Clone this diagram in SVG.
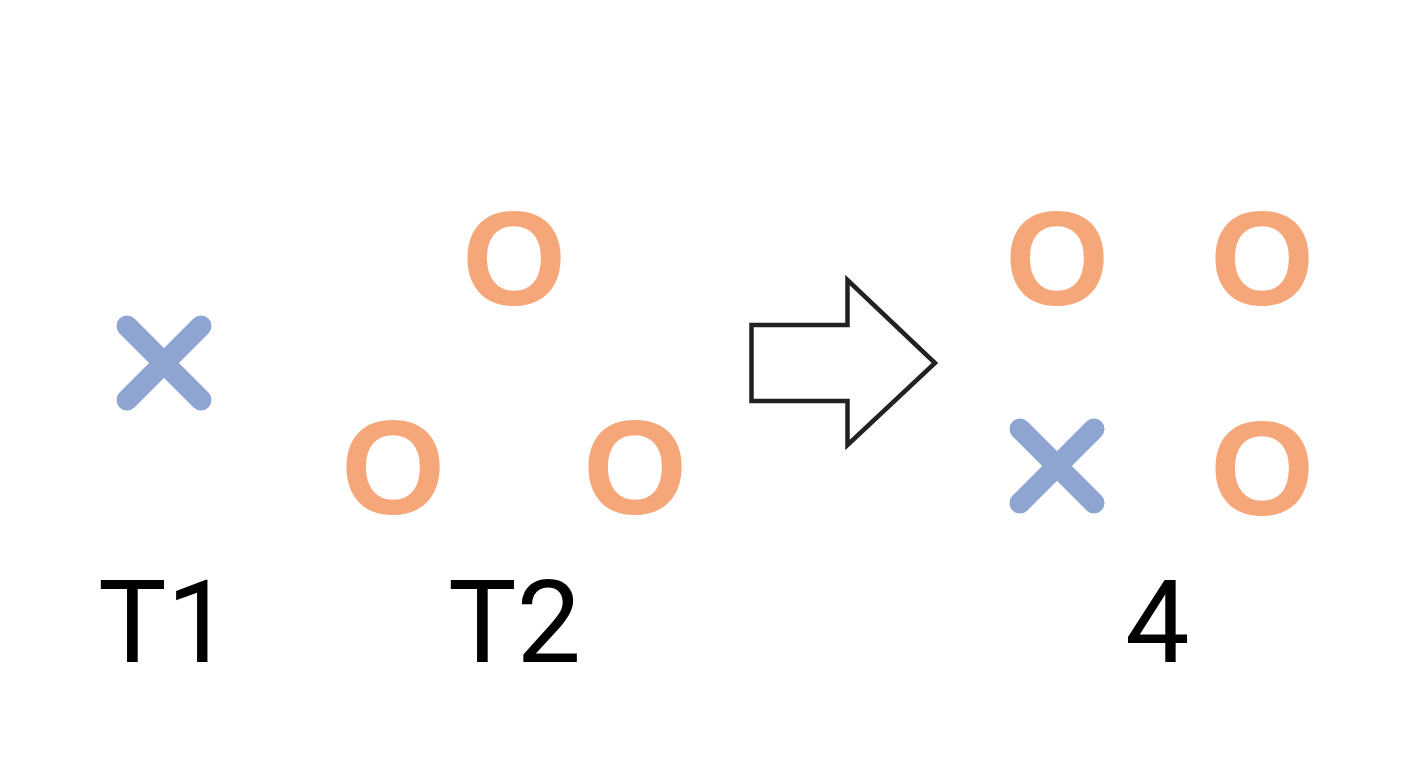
<svg xmlns="http://www.w3.org/2000/svg" xmlns:xlink="http://www.w3.org/1999/xlink" width="1408" height="768" viewBox="0 0 1408 768">
<style>
.x{stroke:#8EA5D1;stroke-width:21;stroke-linecap:round;fill:none}
.o{font-family:"Liberation Sans",Arial,sans-serif;font-weight:bold;font-size:134px;fill:#F5A77A;text-anchor:middle}
.lbl{font-family:Roboto,"Liberation Sans",sans-serif;font-size:115px;fill:#000}
.arrow{fill:#fff;stroke:#222;stroke-width:4.5;stroke-linejoin:miter}
</style>
<defs>
<path id="xSym" class="x" d="M-37,-37 L37,37 M37,-37 L-37,37"/>
</defs>
<rect width="1408" height="768" fill="#fff"/>
<g id="t1">
<use xlink:href="#xSym" href="#xSym" x="164" y="363"/>
<text class="lbl" x="98" y="662">T1</text>
</g>
<g id="t2">
<text class="o" x="514" y="305">O</text>
<text class="o" x="393" y="514">O</text>
<text class="o" x="635" y="514">O</text>
<text class="lbl" x="448" y="662">T2</text>
</g>
<g id="connectors">
<polygon class="arrow" points="751.5,325 847.5,325 847.5,280 935,363 847.5,445 847.5,401 751.5,401"/>
</g>
<g id="result">
<text class="o" x="1057" y="305">O</text>
<text class="o" x="1262" y="305">O</text>
<use href="#xSym" xlink:href="#xSym" x="1057" y="466"/>
<text class="o" x="1262" y="515">O</text>
<text class="lbl" x="1125" y="662">4</text>
</g>
</svg>
